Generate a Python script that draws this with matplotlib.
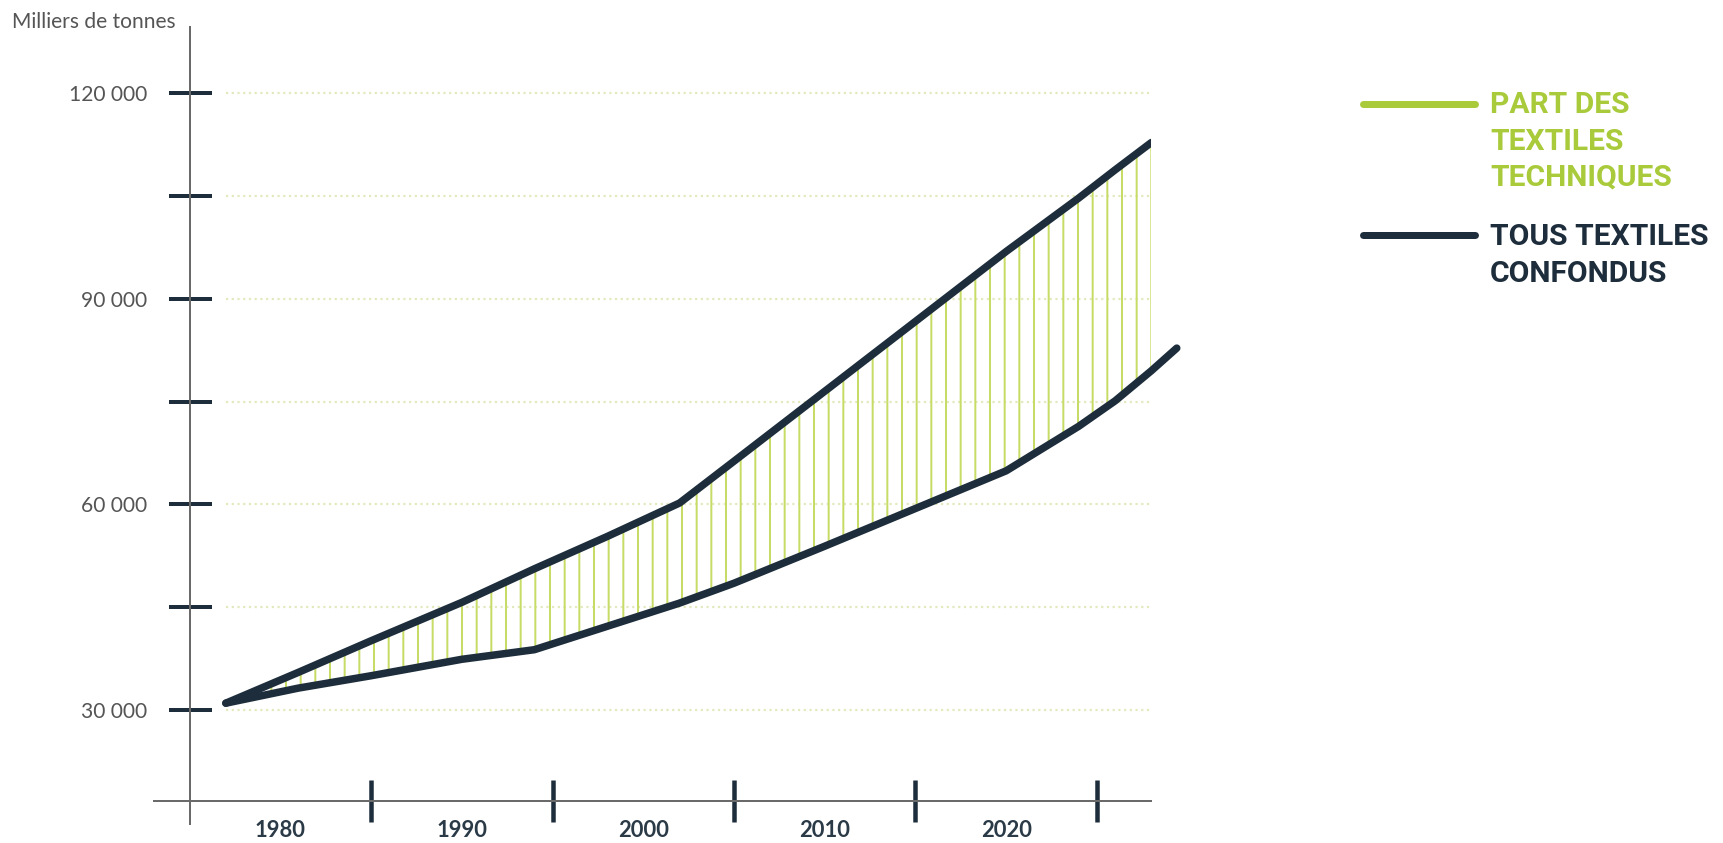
import numpy as np
import matplotlib.pyplot as plt
from matplotlib.lines import Line2D
from matplotlib.ticker import FixedLocator, FixedFormatter

# valeurs (milliers de tonnes)
years = [1977, 1981, 1985, 1990, 1994, 1998, 2002, 2005, 2010, 2015, 2020, 2024, 2026, 2028]
tous_textiles = [31000, 35500, 40100, 45700, 50600, 55300, 60200, 66300,
                 76500, 86700, 96900, 104700, 108800, 112800]
hors_techniques = [31000, 33200, 35000, 37400, 38800, 42200, 45600, 48500,
                   53900, 59400, 64900, 71400, 75100, 79500]
# la courbe basse continue un peu plus loin
hors_tech_end_year = 2029.4
hors_tech_end_value = 82800

y_ticks = [30000, 45000, 60000, 75000, 90000, 105000, 120000]
y_tick_labels = ['30 000', '', '60 000', '', '90 000', '', '120 000']
x_ticks = [1985, 1995, 2005, 2015, 2025]
x_label_pos = [1980, 1990, 2000, 2010, 2020]
x_labels = ['1980', '1990', '2000', '2010', '2020']

legend_green = ['PART DES', 'TEXTILES', 'TECHNIQUES']
legend_navy = ['TOUS TEXTILES', 'CONFONDUS']

NAVY = '#1d2d3b'
GREEN = '#a9cb3b'
HATCH = '#c6dc66'
GRID = '#e3e9bd'
AXIS = '#6a6a6a'
LABEL = '#555555'

DPI = 88
W, H = 1723, 843


def px(p):
    # pixels -> points
    return p * 72 / DPI


plt.rcParams['hatch.linewidth'] = px(2)
plt.rcParams['font.family'] = ['Lato', 'DejaVu Sans']

fig = plt.figure(figsize=(W / DPI, H / DPI), dpi=DPI)
ax = fig.add_axes([154 / W, (H - 800.7) / H, (1151 - 154) / W, (800.7 - 27) / H])
ax.set_xlim(1973.04, 2027.98)
ax.set_ylim(16770, 129650)

# grille pointillée
ax.hlines(y_ticks, years[0], 2028, colors=GRID, linewidth=px(2.2),
          linestyles=(0, (1, 1.6)), zorder=1)

# zone hachurée (part des textiles techniques)
ax.fill_between(years, hors_techniques, tous_textiles, facecolor='none',
                edgecolor=HATCH, hatch='|', linewidth=0, zorder=2)

ax.plot(years, tous_textiles, color=NAVY, lw=px(7.5), solid_capstyle='round',
        solid_joinstyle='round', zorder=3)
ax.plot(years + [hors_tech_end_year], hors_techniques + [hors_tech_end_value],
        color=NAVY, lw=px(7.5), solid_capstyle='round', solid_joinstyle='round',
        zorder=3, clip_on=False)

# axes
for s in ['top', 'right']:
    ax.spines[s].set_visible(False)
ax.spines['left'].set_position(('data', 1975))
ax.spines['left'].set_bounds(13400, 129650)
for s in ['left', 'bottom']:
    ax.spines[s].set_color(AXIS)
    ax.spines[s].set_linewidth(px(2))

ax.yaxis.set_major_locator(FixedLocator(y_ticks))
ax.yaxis.set_major_formatter(FixedFormatter(y_tick_labels))
ax.tick_params(axis='y', direction='inout', length=px(43), width=px(4),
               color=NAVY, pad=px(21), labelsize=px(21), labelcolor=LABEL)

ax.xaxis.set_major_locator(FixedLocator(x_ticks))
ax.xaxis.set_major_formatter(FixedFormatter([''] * len(x_ticks)))
ax.xaxis.set_minor_locator(FixedLocator(x_label_pos))
ax.xaxis.set_minor_formatter(FixedFormatter(x_labels))
ax.tick_params(axis='x', which='major', direction='inout', length=px(42),
               width=px(4.5), color=NAVY)
ax.tick_params(axis='x', which='minor', length=0, pad=px(19),
               labelsize=px(22), labelcolor='#2b3a47')
for t in ax.xaxis.get_minorticklabels():
    t.set_fontweight('bold')

fig.text(12 / W, 1 - 22 / H, 'Milliers de tonnes', fontsize=px(21),
         color=LABEL, ha='left', va='center')

# légende
for y_line, color, lines, baseline0 in [(104, GREEN, legend_green, 113),
                                         (235, NAVY, legend_navy, 245)]:
    fig.add_artist(Line2D([1363 / W, 1475 / W], [1 - y_line / H, 1 - y_line / H],
                          color=color, lw=px(7), solid_capstyle='round'))
    for i, txt in enumerate(lines):
        fig.text(1490 / W, 1 - (baseline0 + i * 36.5) / H, txt, fontsize=px(30),
                 color=color, fontweight='bold', family='Roboto',
                 ha='left', va='baseline')

fig.savefig('out.png', dpi=DPI)
